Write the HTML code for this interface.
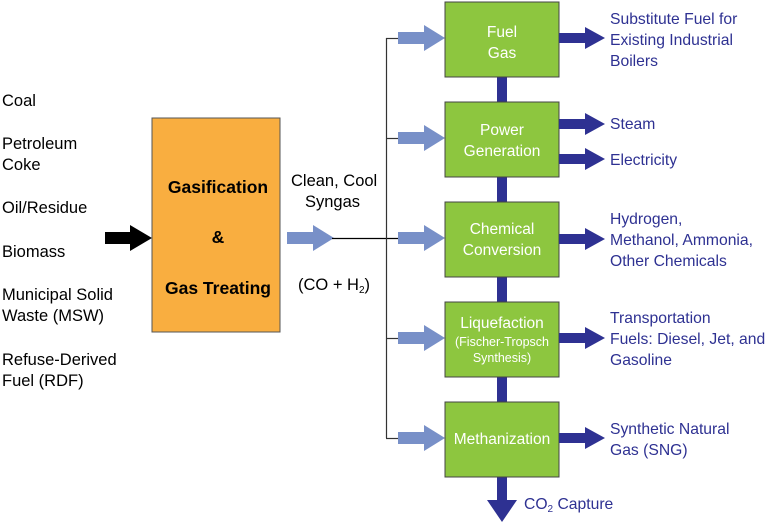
<!DOCTYPE html><html><head><style>
body{margin:0;background:#fff}
svg text{font-family:"Liberation Sans",sans-serif}
</style></head><body>
<svg width="768" height="524" xmlns="http://www.w3.org/2000/svg">
<defs>
<g id="la"><polygon points="0,-6 26,-6 26,-13 47,0 26,13 26,6 0,6" fill="#7890c8"/></g>
<g id="da"><polygon points="0,-5 26,-5 26,-11 46,0 26,11 26,5 0,5" fill="#2e3192"/></g>
</defs>
<polygon points="105,232 130,232 130,225 152,238 130,251 130,244 105,244" fill="#000"/>
<rect x="152" y="118" width="128" height="214" fill="#f9ae40" stroke="#555" stroke-width="1"/>
<g font-size="17.5" font-weight="bold" text-anchor="middle" fill="#000">
<text x="218" y="193">Gasification</text><text x="218" y="243">&amp;</text><text x="218" y="294">Gas Treating</text></g>
<use href="#la" x="287" y="238"/>
<line x1="332" y1="238.5" x2="399" y2="238.5" stroke="#000" stroke-width="1.2"/>
<line x1="386.5" y1="38" x2="386.5" y2="438" stroke="#333" stroke-width="1.2"/>
<g stroke="#333" stroke-width="1.2"><line x1="386" y1="38.5" x2="399" y2="38.5"/><line x1="386" y1="138.5" x2="399" y2="138.5"/><line x1="386" y1="338.5" x2="399" y2="338.5"/><line x1="386" y1="438.5" x2="399" y2="438.5"/></g>
<use href="#la" x="398" y="38"/><use href="#la" x="398" y="138"/><use href="#la" x="398" y="238"/><use href="#la" x="398" y="338"/><use href="#la" x="398" y="438"/>
<rect x="497" y="70" width="10" height="410" fill="#2e3192"/>
<polygon points="497,478 507,478 507,500 517,500 502,522 487,500 497,500" fill="#2e3192"/>
<g fill="#8dc63f" stroke="#444" stroke-width="1">
<rect x="445" y="2" width="114" height="75"/><rect x="445" y="102" width="114" height="75"/><rect x="445" y="202" width="114" height="75"/><rect x="445" y="302" width="114" height="75"/><rect x="445" y="402" width="114" height="75"/></g>
<g fill="#fff" font-size="15.5" text-anchor="middle">
<text x="502" y="37">Fuel</text><text x="502" y="58">Gas</text>
<text x="502" y="135">Power</text><text x="502" y="156">Generation</text>
<text x="502" y="234">Chemical</text><text x="502" y="255">Conversion</text>
<text x="502" y="328">Liquefaction</text><text x="502" y="346" font-size="12.5">(Fischer-Tropsch</text><text x="502" y="362" font-size="12.5">Synthesis)</text>
<text x="502" y="444">Methanization</text></g>
<use href="#da" x="559" y="38"/><use href="#da" x="559" y="124"/><use href="#da" x="559" y="159"/><use href="#da" x="559" y="239"/><use href="#da" x="559" y="338"/><use href="#da" x="559" y="438"/>
<g fill="#2e3192" font-size="15.7">
<text x="610" y="24">Substitute Fuel for</text><text x="610" y="45">Existing Industrial</text><text x="610" y="66">Boilers</text>
<text x="610" y="129">Steam</text><text x="610" y="165">Electricity</text>
<text x="610" y="224">Hydrogen,</text><text x="610" y="245">Methanol, Ammonia,</text><text x="610" y="266">Other Chemicals</text>
<text x="610" y="323">Transportation</text><text x="610" y="344">Fuels: Diesel, Jet, and</text><text x="610" y="365">Gasoline</text>
<text x="610" y="434">Synthetic Natural</text><text x="610" y="455">Gas (SNG)</text>
<text x="524" y="509">CO<tspan font-size="10" dy="3">2</tspan><tspan dy="-3"> Capture</tspan></text></g>
<g fill="#000" font-size="16.5">
<text x="2" y="106">Coal</text>
<text x="2" y="149">Petroleum</text><text x="2" y="170">Coke</text>
<text x="2" y="213">Oil/Residue</text>
<text x="2" y="257">Biomass</text>
<text x="2" y="300">Municipal Solid</text><text x="2" y="321">Waste (MSW)</text>
<text x="2" y="365">Refuse-Derived</text><text x="2" y="386">Fuel (RDF)</text>
<text x="291" y="186">Clean, Cool</text><text x="305" y="207">Syngas</text>
<text x="298" y="290">(CO + H<tspan font-size="10" dy="3">2</tspan><tspan dy="-3">)</tspan></text></g>
</svg>
</body></html>
